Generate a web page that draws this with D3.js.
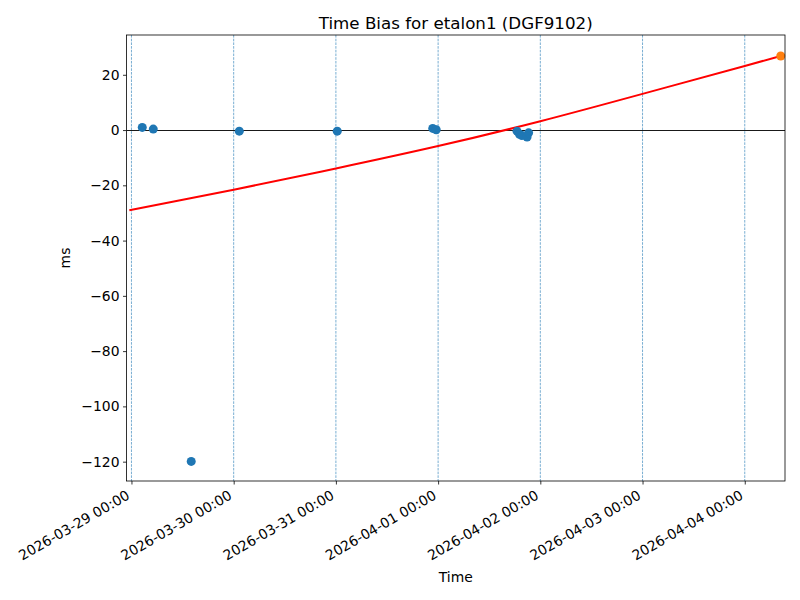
<!DOCTYPE html>
<html><head><meta charset="utf-8">
<script src="https://cdn.jsdelivr.net/npm/d3@7"></script>
<style>body{margin:0;background:#fff;} text{font-family:"DejaVu Sans",sans-serif;}</style>
</head><body>
<svg id="chart" width="800" height="600"></svg>
<script>
// Observed time bias points (blue)
const obsTimes = ["2026-03-29T02:32","2026-03-29T05:07","2026-03-29T14:02","2026-03-30T01:19","2026-03-31T00:19","2026-03-31T22:44","2026-03-31T23:33","2026-04-01T18:32","2026-04-01T19:07","2026-04-01T19:40","2026-04-01T20:53","2026-04-01T21:15"];
const obsValues = [0.95, 0.35, -119.9, -0.4, -0.4, 0.6, 0.1, -0.4, -1.5, -2.0, -2.5, -1.0];
// Predicted point (orange)
const predTimes = ["2026-04-04T08:27"];
const predValues = [26.8];
// Fit curve (red)
const fitTimes = ["2026-03-28T23:30","2026-03-30T00:00","2026-03-31T00:00","2026-04-01T00:00","2026-04-02T00:00","2026-04-03T00:00","2026-04-04T00:00","2026-04-04T08:27"];
const fitValues = [-29.0, -21.6, -13.9, -5.8, 3.2, 13.1, 23.2, 26.8];
// Axis ticks
const xTickDates = ["2026-03-29","2026-03-30","2026-03-31","2026-04-01","2026-04-02","2026-04-03","2026-04-04"];
const yTicks = [20, 0, -20, -40, -60, -80, -100, -120];
const xDomain = ["2026-03-28T22:50","2026-04-04T09:27"];
const yDomain = [-127.0, 34.4];

const svg = d3.select("#chart");
const L = 126.5, R = 785, T = 35, B = 481;
const x = d3.scaleUtc().domain(xDomain.map(s => new Date(s + ":00Z"))).range([L, R]);
const y = d3.scaleLinear().domain(yDomain).range([B, T]);
const tp = s => new Date(s.length === 10 ? s + "T00:00:00Z" : s + ":00Z");
const fmtNum = v => (v < 0 ? "\u2212" + Math.abs(v) : "" + v);

svg.append("rect").attr("width", 800).attr("height", 600).attr("fill", "#fff");

svg.append("clipPath").attr("id", "clip").append("rect")
  .attr("x", L).attr("y", T).attr("width", R - L).attr("height", B - T);
const g = svg.append("g").attr("clip-path", "url(#clip)");

// vertical dashed day lines
g.selectAll("line.vday").data(xTickDates).enter().append("line")
  .attr("x1", d => x(tp(d))).attr("x2", d => x(tp(d)))
  .attr("y1", T).attr("y2", B)
  .attr("stroke", "#1f77b4").attr("stroke-width", 0.6)
  .attr("stroke-dasharray", "2.6,1.1");

// zero line
const y0 = Math.round(y(0)) + 0.5;
g.append("line").attr("x1", L).attr("x2", R).attr("y1", y0).attr("y2", y0)
  .attr("stroke", "#000").attr("stroke-width", 0.9).attr("shape-rendering", "crispEdges");

// fit curve
const fitData = fitTimes.map((t, i) => ({t: tp(t), v: fitValues[i]}));
g.append("path").datum(fitData)
  .attr("d", d3.line().x(d => x(d.t)).y(d => y(d.v)).curve(d3.curveNatural))
  .attr("fill", "none").attr("stroke", "#ff0000").attr("stroke-width", 2);

// observed points
g.selectAll("circle.obs").data(obsTimes.map((t, i) => ({t: tp(t), v: obsValues[i]})))
  .enter().append("circle")
  .attr("cx", d => x(d.t)).attr("cy", d => y(d.v)).attr("r", 4.5)
  .attr("fill", "#1f77b4");

// predicted point
svg.selectAll("circle.pred").data(predTimes.map((t, i) => ({t: tp(t), v: predValues[i]})))
  .enter().append("circle")
  .attr("cx", d => x(d.t)).attr("cy", d => y(d.v)).attr("r", 4.5)
  .attr("fill", "#ff7f0e");

// axes frame
svg.append("rect").attr("x", L).attr("y", T).attr("width", R - L).attr("height", B - T)
  .attr("fill", "none").attr("stroke", "#000").attr("stroke-width", 0.8);

// y axis
const yAxis = d3.axisLeft(y).tickValues(yTicks).tickSize(3.5).tickPadding(3.5).tickFormat(fmtNum);
const ya = svg.append("g").attr("transform", `translate(${L},0)`).call(yAxis);
ya.select(".domain").remove();
ya.selectAll("line").attr("stroke-width", 0.8);
ya.selectAll("text").attr("font-size", 13.9).attr("font-family", "DejaVu Sans").attr("fill", "#000");

// x axis
const xAxis = d3.axisBottom(x).tickValues(xTickDates.map(tp)).tickSize(3.5).tickFormat(() => "");
const xa = svg.append("g").attr("transform", `translate(0,${B})`).call(xAxis);
xa.select(".domain").remove();
xa.selectAll("line").attr("stroke-width", 0.8);
const fmtDate = d3.utcFormat("%Y-%m-%d %H:%M");
svg.append("g").selectAll("text").data(xTickDates).enter().append("text")
  .attr("transform", d => `translate(${x(tp(d)) - 6},${B + 8}) rotate(-30)`)
  .attr("text-anchor", "end").attr("dy", "0.76em")
  .attr("font-size", 13.9).attr("fill", "#000")
  .text(d => fmtDate(tp(d)));

// title and labels
svg.append("text").attr("x", (L + R) / 2).attr("y", 29).attr("text-anchor", "middle")
  .attr("font-size", 16.7).text("Time Bias for etalon1 (DGF9102)");
svg.append("text").attr("x", (L + R) / 2).attr("y", 582).attr("text-anchor", "middle")
  .attr("font-size", 13.9).text("Time");
svg.append("text").attr("transform", `translate(70,${(T + B) / 2}) rotate(-90)`)
  .attr("text-anchor", "middle").attr("font-size", 13.9).text("ms");
</script>
</body></html>
